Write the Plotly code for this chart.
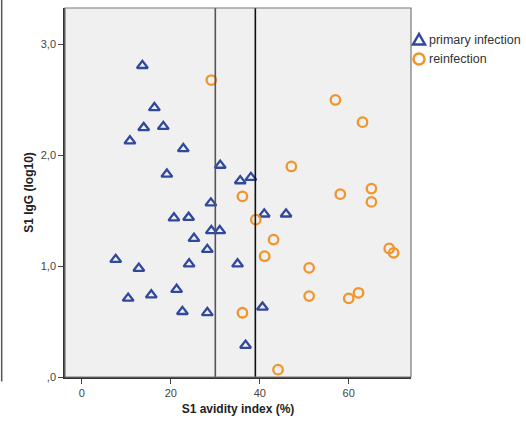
import plotly.graph_objects as go

# S1 avidity index (%) and S1 IgG (log10) per patient
primary_avidity = [13.6, 16.3, 13.9, 18.3, 10.8, 22.8, 19.1, 31.1, 29.0, 35.6,
                   38.0, 20.7, 24.0, 29.1, 31.0, 25.2, 28.2, 7.6, 12.8, 24.1,
                   35.0, 21.3, 15.6, 10.4, 22.6, 28.2, 41.0, 45.9, 40.6, 36.8]
primary_igg = [2.81, 2.43, 2.25, 2.26, 2.13, 2.06, 1.83, 1.91, 1.57, 1.77,
               1.80, 1.435, 1.44, 1.32, 1.32, 1.25, 1.15, 1.06, 0.98, 1.02,
               1.02, 0.79, 0.74, 0.71, 0.59, 0.58, 1.47, 1.47, 0.63, 0.285]

reinf_avidity = [29.1, 57.0, 63.1, 47.1, 36.1, 58.1, 65.1, 65.1, 39.1, 43.1,
                 41.1, 51.1, 51.1, 60.0, 62.2, 69.1, 70.1, 36.1, 44.1]
reinf_igg = [2.68, 2.50, 2.30, 1.90, 1.63, 1.65, 1.70, 1.58, 1.42, 1.24,
             1.09, 0.985, 0.73, 0.71, 0.76, 1.16, 1.12, 0.58, 0.066]

# Avidity cut-offs
cutoffs = [30, 39]
cutoff_colors = ["#555555", "#111111"]

x_ticks = [0, 20, 40, 60]
y_ticks = [0, 1, 2, 3]
y_tick_labels = [",0", "1,0", "2,0", "3,0"]

legend_labels = ["primary infection", "reinfection"]

BLUE = "#31499c"
ORANGE = "#f0952b"
symbols = ["triangle-up-open", "circle-open"]
colors = [BLUE, ORANGE]
series = [(primary_avidity, primary_igg), (reinf_avidity, reinf_igg)]

fig = go.Figure()

for (xs, ys), sym, col, label in zip(series, symbols, colors, legend_labels):
    fig.add_trace(go.Scatter(
        x=xs, y=ys, mode="markers", name=label,
        marker=dict(symbol=sym, size=9.5, color=col, line=dict(width=2.3, color=col)),
        showlegend=False, cliponaxis=False,
    ))

# Legend drawn beside the plot: pixel-sized glyphs anchored in paper space
plot_w = 526 - 65 - 115
plot_h = 426 - 8 - 49
glyph_x = (419 - 65) / plot_w
text_x = (427 - 65) / plot_w
legend_rows = [1 - (40 - 8) / plot_h, 1 - (59 - 8) / plot_h]

fig.add_shape(type="path", xref="paper", yref="paper",
              xsizemode="pixel", ysizemode="pixel",
              xanchor=glyph_x, yanchor=legend_rows[0],
              path="M -6,-4.5 L 6,-4.5 L 0,6 Z",
              line=dict(color=BLUE, width=2.5), fillcolor="rgba(0,0,0,0)")
fig.add_shape(type="circle", xref="paper", yref="paper",
              xsizemode="pixel", ysizemode="pixel",
              xanchor=glyph_x, yanchor=legend_rows[1],
              x0=-5.5, x1=5.5, y0=-5.5, y1=5.5,
              line=dict(color=ORANGE, width=2.5), fillcolor="rgba(0,0,0,0)")

for label, yy in zip(legend_labels, legend_rows):
    fig.add_annotation(
        text=label, x=text_x, y=yy, xref="paper", yref="paper",
        xanchor="left", yanchor="middle", showarrow=False,
        font=dict(family="Liberation Sans, Arial, sans-serif", size=12.5, color="#333333"),
    )

for c, col in zip(cutoffs, cutoff_colors):
    fig.add_shape(type="line", x0=c, x1=c, y0=0, y1=1, xref="x", yref="paper",
                  line=dict(color=col, width=1.6))

# outer frame line on the left edge of the figure
fig.add_shape(type="line", x0=-0.183, x1=-0.183, y0=-0.012, y1=1.03,
              xref="paper", yref="paper", line=dict(color="#555555", width=1.5))

fig.update_layout(
    width=526, height=426,
    margin=dict(l=65, r=115, t=8, b=49),
    paper_bgcolor="white",
    plot_bgcolor="#f0f0f0",
    font=dict(family="Liberation Sans, Arial, sans-serif", color="#444444", size=11),
    xaxis=dict(
        range=[-3.8, 74], tickvals=x_ticks, ticktext=[str(v) for v in x_ticks],
        ticks="outside", ticklen=5, tickcolor="#444444", tickwidth=1,
        showgrid=False, zeroline=False, showline=True, linecolor="#333333",
        linewidth=1.5, mirror=False,
        title=dict(text="<b>S1 avidity index (%)</b>", standoff=7,
                   font=dict(size=12, color="#222222")),
    ),
    yaxis=dict(
        range=[0, 3.33], tickvals=y_ticks, ticktext=y_tick_labels,
        ticks="outside", ticklen=5, tickcolor="#444444", tickwidth=1,
        showgrid=False, zeroline=False, showline=True, linecolor="#333333",
        linewidth=1.5,
        title=dict(text="<b>S1 IgG (log10)</b>", standoff=5,
                   font=dict(size=12, color="#222222")),
    ),
    showlegend=False,
)

# top and right borders of the plot area
fig.add_shape(type="rect", x0=0, x1=1, y0=0, y1=1, xref="paper", yref="paper",
              line=dict(color="#777777", width=1.2), layer="above")

fig.write_html("out.html")
